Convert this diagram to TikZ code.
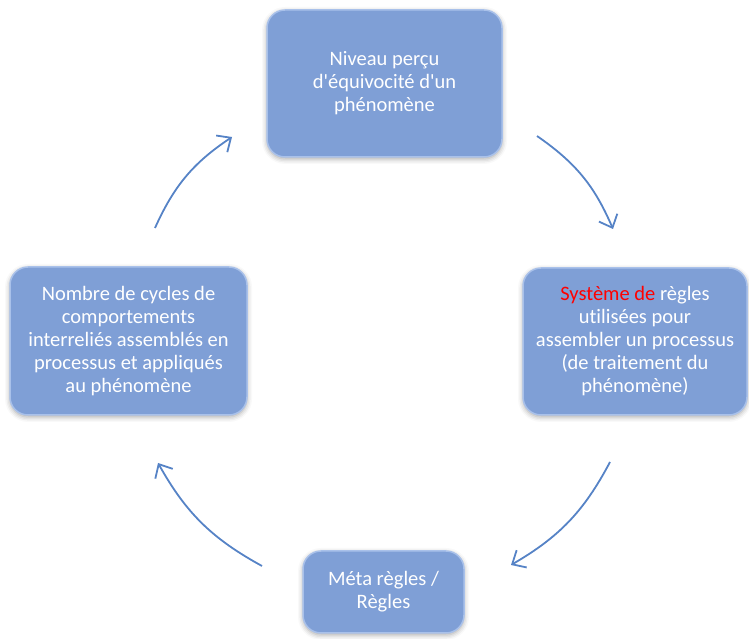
\documentclass[tikz,border=0pt]{standalone}
\usepackage{fontspec}
\setmainfont{Carlito}[Ligatures={NoCommon}]
\usepackage{xcolor}
\definecolor{qbox}{HTML}{7F9FD6}
\definecolor{qrim}{HTML}{A9C1EA}
\definecolor{qarrow}{HTML}{5683C6}
\usetikzlibrary{arrows.meta,shadows.blur}

\begin{document}
\begin{tikzpicture}[x=1pt,y=1pt,
  cycbox/.style={rectangle,rounded corners=18pt,draw=qrim,line width=1.5pt,fill=qbox,
                 text=white,align=center,inner sep=0pt,font=\fontsize{20.5}{23}\selectfont,
                 blur shadow={shadow xshift=0pt,shadow yshift=-2pt,shadow blur radius=5pt,shadow opacity=35}},
  cycarrow/.style={-{Straight Barb[length=11pt,width=20pt]},line width=1.8pt,qarrow,bend left=16}]
\useasboundingbox (0,0) rectangle (749,639);
\node[cycbox,minimum width=235,minimum height=147] (niveau) at (384.5,555.5)
  {Niveau perçu\\d\textquotesingle équivocité d\textquotesingle un\\phénomène};
\node[cycbox,minimum width=224,minimum height=147] (systeme) at (635,297.5)
  {\textcolor{red}{Système de} règles\\utilisées pour\\assembler un processus\\(de traitement du\\phénomène)};
\node[cycbox,minimum width=161,minimum height=82] (meta) at (383.5,47)
  {Méta règles /\\Règles};
\node[cycbox,minimum width=237,minimum height=148] (cycles) at (128.5,298)
  {Nombre de cycles de\\comportements\\interreliés assemblés en\\processus et appliqués\\au phénomène};
% arrow ends
\coordinate (c1a) at (155,411);
\coordinate (c1b) at (232,502);
\coordinate (c2a) at (537,503);
\coordinate (c2b) at (613,410);
\coordinate (c3a) at (610,177);
\coordinate (c3b) at (511,74);
\coordinate (c4a) at (262,73);
\coordinate (c4b) at (158,176);
\draw[cycarrow] (c1a) to (c1b);
\draw[cycarrow] (c2a) to (c2b);
\draw[cycarrow] (c3a) to (c3b);
\draw[cycarrow] (c4a) to (c4b);
\end{tikzpicture}
\end{document}
